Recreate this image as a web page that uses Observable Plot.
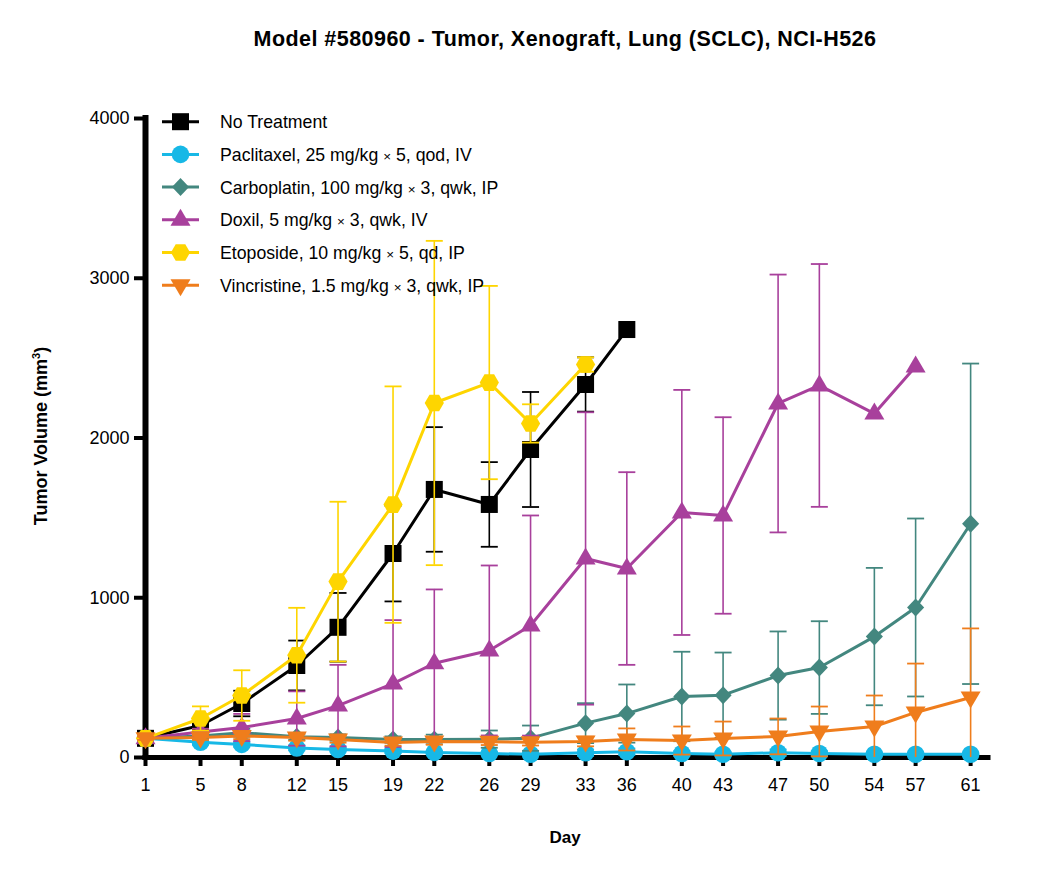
<!DOCTYPE html>
<html>
<head>
<meta charset="utf-8">
<script src="https://cdn.jsdelivr.net/npm/d3@7"></script>
<script src="https://cdn.jsdelivr.net/npm/@observablehq/plot@0.6"></script>
<style>
  html, body { margin: 0; padding: 0; background: #fff; }
  #wrap { position: relative; width: 1050px; height: 874px; font-family: "Liberation Sans", Arial, sans-serif; color: #000; overflow: hidden; }
  #wrap > figure, #wrap > svg { position: absolute; left: 0; top: 0; margin: 0; }
  .title { position: absolute; left: 565px; top: 29px; transform: translateX(-50%); white-space: nowrap; font-weight: bold; font-size: 21.5px; line-height: 21.5px; letter-spacing: 0.45px; }
  .xlabel { position: absolute; left: 565px; top: 829px; transform: translateX(-50%); font-weight: bold; font-size: 17px; line-height: 17px; }
  .ylabel { position: absolute; left: 41px; top: 436px; transform: translate(-50%, -50%) rotate(-90deg); white-space: nowrap; font-weight: bold; font-size: 18px; line-height: 18px; }
  .ylabel sup { font-size: 11px; line-height: 0; vertical-align: 7px; }
  #legend { position: absolute; left: 0; top: 0; pointer-events: none; }
</style>
</head>
<body>
<div id="wrap"></div>
<script>
// ---------------- data ----------------
const days = [1, 5, 8, 12, 15, 19, 22, 26, 29, 33, 36, 40, 43, 47, 50, 54, 57, 61];
const yTicks = [0, 1000, 2000, 3000, 4000];

const seriesNames = [
  "No Treatment",
  "Paclitaxel, 25 mg/kg × 5, qod, IV",
  "Carboplatin, 100 mg/kg × 3, qwk, IP",
  "Doxil, 5 mg/kg × 3, qwk, IV",
  "Etoposide, 10 mg/kg × 5, qd, IP",
  "Vincristine, 1.5 mg/kg × 3, qwk, IP"
];
const seriesColors = ["#000000", "#17b8e6", "#43877f", "#a8409c", "#fed500", "#ef7d1c"];

// means (null = no measurement)
const noTreatmentMean = [120, 200, 338, 576, 815, 1277, 1678, 1584, 1928, 2335, 2679, null, null, null, null, null, null, null];
const noTreatmentSem  = [10, 30, 80, 156, 215, 300, 390, 265, 360, 170, 0, null, null, null, null, null, null, null];

const paclitaxelMean = [120, 95, 82, 60, 50, 40, 32, 25, 20, 30, 36, 25, 20, 30, 25, 20, 20, 20];
const paclitaxelSem  = [10, 15, 15, 15, 12, 12, 10, 10, 8, 20, 20, 15, 12, 20, 15, 10, 10, 10];

const carboplatinMean = [120, 135, 155, 130, 125, 112, 113, 115, 121, 215, 275, 382, 390, 513, 563, 757, 939, 1463];
const carboplatinSem  = [10, 15, 25, 20, 20, 20, 30, 54, 79, 125, 182, 280, 267, 276, 290, 430, 557, 1003];

const doxilMean = [120, 160, 188, 244, 325, 463, 590, 670, 826, 1246, 1183, 1534, 1515, 2216, 2329, 2153, 2448, null];
const doxilSem  = [10, 20, 85, 170, 255, 397, 462, 532, 689, 915, 603, 767, 615, 807, 760, 0, 0, null];

const etoposideMean = [120, 244, 388, 640, 1101, 1583, 2219, 2347, 2091, 2460, null, null, null, null, null, null, null, null];
const etoposideSem  = [10, 76, 158, 297, 500, 740, 1015, 605, 120, 45, null, null, null, null, null, null, null, null];

const vincristineMean = [120, 125, 135, 125, 113, 94, 100, 98, 95, 100, 113, 106, 119, 132, 163, 194, 282, 376];
const vincristineSem  = [10, 15, 20, 20, 20, 20, 20, 20, 20, 30, 69, 88, 106, 112, 156, 194, 306, 432];

const seriesMeans = [noTreatmentMean, paclitaxelMean, carboplatinMean, doxilMean, etoposideMean, vincristineMean];
const seriesSems  = [noTreatmentSem, paclitaxelSem, carboplatinSem, doxilSem, etoposideSem, vincristineSem];

// ---------------- symbols ----------------
const rOf = s => Math.sqrt(s / Math.PI);
const symSquare = {draw(c, s) { const h = Math.sqrt(s) / 2; c.moveTo(-h, -h); c.lineTo(h, -h); c.lineTo(h, h); c.lineTo(-h, h); c.closePath(); }};
const symCircle = {draw(c, s) { const r = rOf(s); c.moveTo(r, 0); c.arc(0, 0, r, 0, 2 * Math.PI); c.closePath(); }};
const symDiamond = {draw(c, s) { const k = rOf(s); c.moveTo(0, -k); c.lineTo(k * 0.95, 0); c.lineTo(0, k); c.lineTo(-k * 0.95, 0); c.closePath(); }};
const symTriUp = {draw(c, s) { const k = rOf(s); c.moveTo(0, -1.1 * k); c.lineTo(k, 0.6 * k); c.lineTo(-k, 0.6 * k); c.closePath(); }};
const symTriDown = {draw(c, s) { const k = rOf(s); c.moveTo(0, 1.1 * k); c.lineTo(k, -0.6 * k); c.lineTo(-k, -0.6 * k); c.closePath(); }};
const symHex = {draw(c, s) { const k = rOf(s); for (let i = 0; i < 6; i++) { const a = i * Math.PI / 3; const x = k * Math.cos(a), y = k * Math.sin(a); if (i === 0) c.moveTo(x, y); else c.lineTo(x, y); } c.closePath(); }};
const symCap = {draw(c) { c.moveTo(-8.5, 0); c.lineTo(8.5, 0); }};

const seriesSymbols = [symSquare, symCircle, symDiamond, symTriUp, symHex, symTriDown];
const seriesR = [9.6, 8.8, 9, 10, 9.6, 10];

// ---------------- table ----------------
const seriesRows = seriesNames.map((name, si) => {
  const rows = [];
  days.forEach((day, i) => {
    const m = seriesMeans[si][i];
    if (m == null) return;
    const e = seriesSems[si][i] || 0;
    rows.push({series: name, day, mean: m, sem: e, lo: Math.max(0, m - e), hi: m + e});
  });
  return rows;
});

// ---------------- plot ----------------
const marks = [];
seriesRows.forEach((rows, si) => {
  const color = seriesColors[si];
  const withBars = rows.filter(d => d.sem > 0);
  marks.push(
    Plot.ruleX(withBars, {x: "day", y1: "lo", y2: "hi", stroke: color, strokeWidth: 1.6}),
    Plot.dot(withBars, {x: "day", y: "hi", symbol: symCap, r: 5, fill: "none", stroke: color, strokeWidth: 1.8}),
    Plot.dot(withBars.filter(d => d.lo > 0), {x: "day", y: "lo", symbol: symCap, r: 5, fill: "none", stroke: color, strokeWidth: 1.8}),
    Plot.line(rows, {x: "day", y: "mean", stroke: color, strokeWidth: 3}),
    Plot.dot(rows, {x: "day", y: "mean", symbol: seriesSymbols[si], r: seriesR[si], fill: color})
  );
});

const chart = Plot.plot({
  width: 1050,
  height: 874,
  marginLeft: 145,
  marginRight: 62,
  marginTop: 118,
  marginBottom: 117,
  style: {fontFamily: "'Liberation Sans', Arial, sans-serif", fontSize: "18px", background: "transparent", color: "#000", overflow: "visible"},
  x: {domain: [1, 62.3]},
  y: {domain: [0, 4000]},
  marks: [
    Plot.ruleY([0], {stroke: "#000", strokeWidth: 5, strokeLinecap: "square"}),
    Plot.ruleX([1], {stroke: "#000", strokeWidth: 6, strokeLinecap: "square"}),
    Plot.axisX({ticks: days, tickFormat: d => String(d), tickSize: 9, tickPadding: 12, strokeWidth: 4, fontSize: 18, label: null}),
    Plot.axisY({ticks: yTicks, tickFormat: d => String(d), tickSize: 11, tickPadding: 5, strokeWidth: 4, fontSize: 18, label: null}),
    ...marks
  ]
});

const wrap = document.getElementById("wrap");
wrap.appendChild(chart);

// titles
const title = document.createElement("div");
title.className = "title";
title.textContent = "Model #580960 - Tumor, Xenograft, Lung (SCLC), NCI-H526";
wrap.appendChild(title);

const xlabel = document.createElement("div");
xlabel.className = "xlabel";
xlabel.textContent = "Day";
wrap.appendChild(xlabel);

const ylabel = document.createElement("div");
ylabel.className = "ylabel";
ylabel.innerHTML = "Tumor Volume (mm<sup>3</sup>)";
wrap.appendChild(ylabel);

// legend (overlay, inside the plot frame at top-left)
const leg = d3.create("svg").attr("id", "legend").attr("width", 1050).attr("height", 874)
  .style("font-family", "'Liberation Sans', Arial, sans-serif");
seriesNames.forEach((name, i) => {
  const cy = 121.7 + i * 32.7;
  const g = leg.append("g").attr("transform", `translate(0,${cy})`);
  g.append("line").attr("x1", 162).attr("x2", 199).attr("y1", 0).attr("y2", 0)
    .attr("stroke", seriesColors[i]).attr("stroke-width", 3);
  g.append("path").attr("transform", "translate(180.5,0)")
    .attr("d", d3.symbol().type(seriesSymbols[i]).size(Math.PI * seriesR[i] * seriesR[i])())
    .attr("fill", seriesColors[i]);
  const t = g.append("text").attr("x", 220).attr("y", 6.6).attr("font-size", 17.7).attr("fill", "#000");
  name.split("×").forEach((part, j) => {
    if (j > 0) t.append("tspan").attr("font-size", 13.5).text("×");
    t.append("tspan").text(part);
  });
});
wrap.appendChild(leg.node());
</script>
</body>
</html>
